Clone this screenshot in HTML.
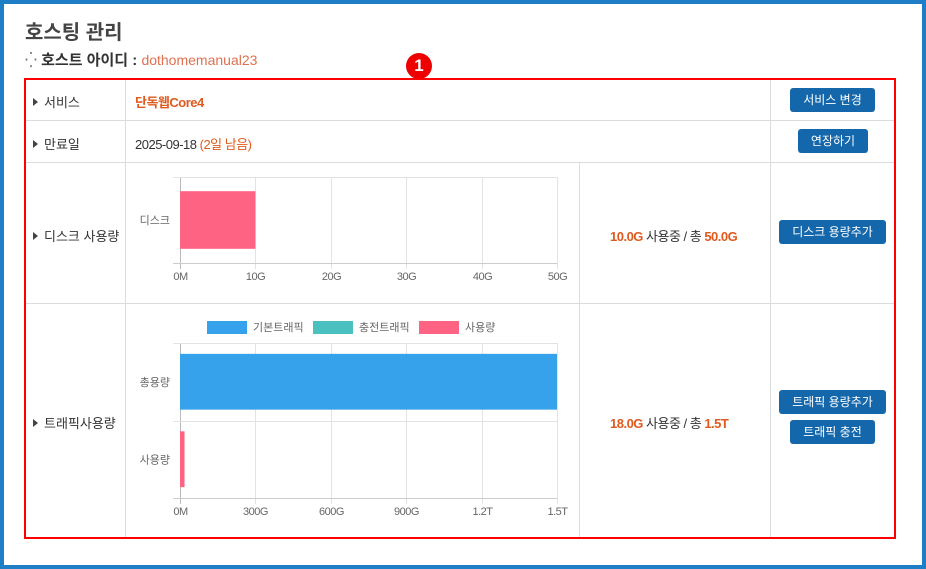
<!DOCTYPE html>
<html><head><meta charset="utf-8">
<style>
*{margin:0;padding:0;box-sizing:border-box}
body{width:926px;height:569px;overflow:hidden;background:#fff;font-family:"Liberation Sans","Noto Sans CJK KR",sans-serif;position:relative}
.frame{position:absolute;left:0;top:0;width:926px;height:569px;border:4px solid #1f7fc6}
.abs{position:absolute;white-space:nowrap}
.hl{position:absolute;background:#dcdcdc;height:1px}
.vl{position:absolute;background:#dcdcdc;width:1px}
.lbl{font-size:13px;color:#333}
.lbl:before{content:"";display:inline-block;border-left:5px solid #444;border-top:4px solid transparent;border-bottom:4px solid transparent;margin-right:6px;vertical-align:1px}
.btn{position:absolute;background:#1467ab;color:#fff;font-size:12px;border-radius:3px;text-align:center;line-height:24px}
.or{color:#e05a1f}
</style></head><body>
<div class="frame"></div>
<div class="abs" style="left:25px;top:16px;font-size:20px;font-weight:bold;color:#444">호스팅 관리</div>
<div class="abs" style="left:25px;top:49px;font-size:15px;font-weight:bold;color:#333"><span style="color:#666;font-weight:normal">⁛</span> 호스트 아이디 : <span style="color:#e07050;font-weight:normal;font-size:14px">dothomemanual23</span></div>
<div class="abs" style="left:406px;top:53px;width:26px;height:26px;border-radius:13px;background:#e00;color:#fff;font-weight:bold;font-size:17px;text-align:center;line-height:26px">1</div>
<div class="abs" style="left:24px;top:78px;width:872px;height:461px;border:2px solid #f00"></div>
<div class="hl" style="left:26px;top:120px;width:868px"></div>
<div class="hl" style="left:26px;top:162px;width:868px"></div>
<div class="hl" style="left:26px;top:303px;width:868px"></div>
<div class="vl" style="left:125px;top:80px;height:457px"></div>
<div class="vl" style="left:770px;top:80px;height:457px"></div>
<div class="vl" style="left:579px;top:163px;height:374px"></div>
<div class="abs lbl" style="left:33px;top:92px">서비스</div>
<div class="abs lbl" style="left:33px;top:134px">만료일</div>
<div class="abs lbl" style="left:33px;top:226px">디스크 사용량</div>
<div class="abs lbl" style="left:33px;top:413px">트래픽사용량</div>
<div class="abs or" style="left:135px;top:92px;font-size:13px;font-weight:bold;letter-spacing:-0.5px">단독웹Core4</div>
<div class="abs" style="left:135px;top:134px;font-size:13px;color:#333;letter-spacing:-0.5px">2025-09-18 <span class="or">(2일 남음)</span></div>
<div class="abs" style="left:610px;top:226px;font-size:13px;color:#333;letter-spacing:-0.5px"><b class="or">10.0G</b> 사용중 / 총 <b class="or">50.0G</b></div>
<div class="abs" style="left:610px;top:413px;font-size:13px;color:#333;letter-spacing:-0.5px"><b class="or">18.0G</b> 사용중 / 총 <b class="or">1.5T</b></div>
<div class="btn" style="left:790px;top:88px;width:85px">서비스 변경</div>
<div class="btn" style="left:798px;top:129px;width:70px">연장하기</div>
<div class="btn" style="left:779px;top:220px;width:107px">디스크 용량추가</div>
<div class="btn" style="left:779px;top:390px;width:107px">트래픽 용량추가</div>
<div class="btn" style="left:790px;top:420px;width:85px">트래픽 충전</div>
<svg class="abs" style="left:0;top:0" width="926" height="569" id="charts"></svg>
<script>
const diskCategories=["디스크"];
const diskValues=[10];
const diskTicks=["0M","10G","20G","30G","40G","50G"];
const diskMax=50;
const trafficCategories=["총용량","사용량"];
const trafficValues=[1500,18];
const trafficTicks=["0M","300G","600G","900G","1.2T","1.5T"];
const trafficMax=1500;
const trafficLegend=["기본트래픽","충전트래픽","사용량"];
const legendColors=["#36a2eb","#4bc0c0","#ff6384"];
const barColors=["#36a2eb","#ff6384"];
const NS="http://www.w3.org/2000/svg";
const svg=document.getElementById('charts');
function mk(t,a){const e=document.createElementNS(NS,t);for(const k in a)e.setAttribute(k,a[k]);svg.appendChild(e);return e;}
function chart(cfg){
  const x=v=>cfg.x0+(cfg.x1-cfg.x0)*v/cfg.max;
  const n=cfg.cats.length, band=(cfg.y1-cfg.y0)/n;
  cfg.ticks.forEach((t,i)=>{
    const xx=Math.round(x(cfg.max*i/(cfg.ticks.length-1)))+0.5;
    const l=mk('line',{x1:xx,x2:xx,y1:cfg.y0,y2:cfg.y1+6,stroke:i==0?'#bbb':'#e3e3e3'});
    
    
    const tx=mk('text',{x:xx,y:cfg.y1+17,'text-anchor':'middle','font-size':11,fill:'#666','letter-spacing':'-0.5'});
    tx.textContent=t;
    
    
  });
  for(let i=0;i<=n;i++){
    const yy=Math.round(cfg.y0+band*i)+0.5;
    const l=mk('line',{x1:cfg.x0-7,x2:cfg.x1,y1:yy,y2:yy,stroke:i==n?'#ccc':'#e3e3e3'});
    
    
  }
  cfg.cats.forEach((c,i)=>{
    const yc=cfg.y0+band*(i+0.5), h=band*cfg.frac;
    const r=mk('rect',{x:cfg.x0,y:yc-h/2,width:Math.max(0,x(cfg.vals[i])-cfg.x0),height:h,fill:cfg.colors[i]});
    
    
    const tx=mk('text',{x:cfg.x0-10,y:yc+4,'text-anchor':'end','font-size':11,fill:'#666'});
    tx.textContent=c;
    
    
  });
}
chart({x0:180,x1:557,y0:177,y1:263,max:diskMax,ticks:diskTicks,cats:diskCategories,vals:diskValues,colors:["#ff6384"],frac:0.67});
chart({x0:180,x1:557,y0:343,y1:498,max:trafficMax,ticks:trafficTicks,cats:trafficCategories,vals:trafficValues,colors:barColors,frac:0.72});
const lx=[207,313,419];
trafficLegend.forEach((t,i)=>{
  const r=mk('rect',{x:lx[i],y:321,width:40,height:13,fill:legendColors[i]});
  
  
  const tx=mk('text',{x:lx[i]+46,y:331,'font-size':11,fill:'#666'});
  tx.textContent=t;
  
  
});
</script>
</body></html>
